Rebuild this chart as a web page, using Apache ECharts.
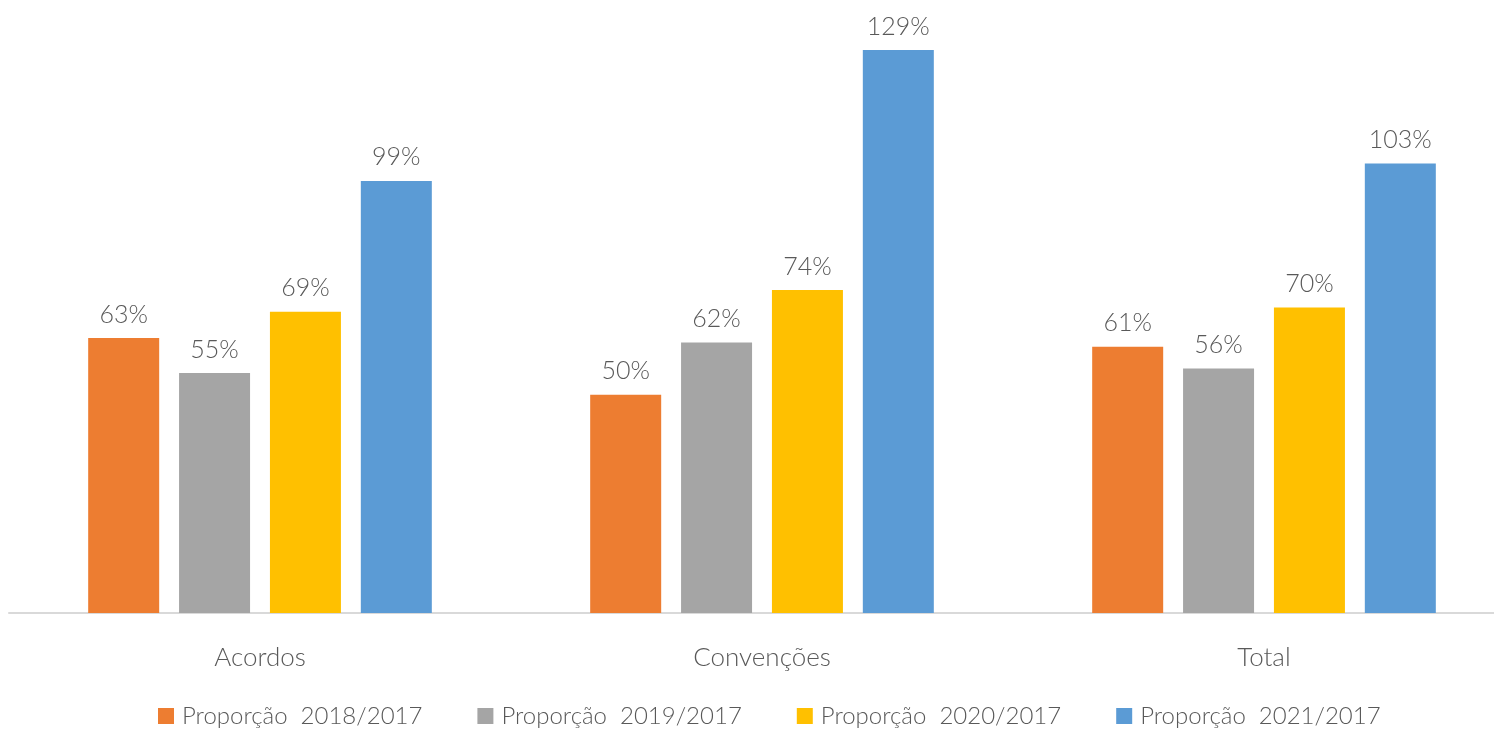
<!DOCTYPE html>
<html>
	<head>
		<meta charset="utf-8" />
		<title>Proporção</title>
		<script src="https://cdn.jsdelivr.net/npm/echarts@6/dist/echarts.min.js"></script>
		<style>
			html, body { margin: 0; padding: 0; background: #fff; }
			#main { width: 1494px; height: 731px; }
		</style>
	</head>
	<body>
		<div id="main"></div>
		<script>
			// dados
			var categorias = ['Acordos', 'Convenções', 'Total'];
			var nomes = ['Proporção  2018/2017', 'Proporção  2019/2017', 'Proporção  2020/2017', 'Proporção  2021/2017'];
			var p2018 = [63, 50, 61];
			var p2019 = [55, 62, 56];
			var p2020 = [69, 74, 70];
			var p2021 = [99, 129, 103];
			var cores = ['#ED7D31', '#A5A5A5', '#FFC000', '#5B9BD5'];

			var fonte = 'Lato, "Open Sans", sans-serif';
			var myChart = echarts.init(document.getElementById('main'));

			function serie(i, dados) {
				return {
					name: nomes[i],
					type: 'bar',
					data: dados,
					barWidth: 71,
					barGap: '28%',
					itemStyle: { color: cores[i] },
					label: {
						show: true,
						position: 'top',
						distance: 11,
						formatter: '{c}%',
						color: '#595959',
						fontSize: 25,
						fontWeight: 300,
						fontFamily: fonte
					}
				};
			}

			myChart.setOption({
				animation: false,
				color: cores,
				grid: { left: 9, width: 1506, top: 50, bottom: 118, outerBoundsMode: 'none' },
				legend: {
					left: 153,
					bottom: -2,
					itemWidth: 16,
					itemHeight: 16,
					itemGap: 55,
					icon: 'rect',
					textStyle: { color: '#595959', fontSize: 24, fontWeight: 300, fontFamily: fonte, padding: [0, 0, 0, 3] },
					data: nomes
				},
				xAxis: {
					type: 'category',
					data: categorias,
					axisLine: { lineStyle: { color: '#d9d9d9', width: 2 } },
					axisTick: { show: false },
					axisLabel: { color: '#595959', fontSize: 26, fontWeight: 300, fontFamily: fonte, margin: 32 }
				},
				yAxis: {
					type: 'value',
					min: 0,
					max: 129,
					show: false,
					splitLine: { show: false }
				},
				series: [serie(0, p2018), serie(1, p2019), serie(2, p2020), serie(3, p2021)]
			});
		</script>
	</body>
</html>
